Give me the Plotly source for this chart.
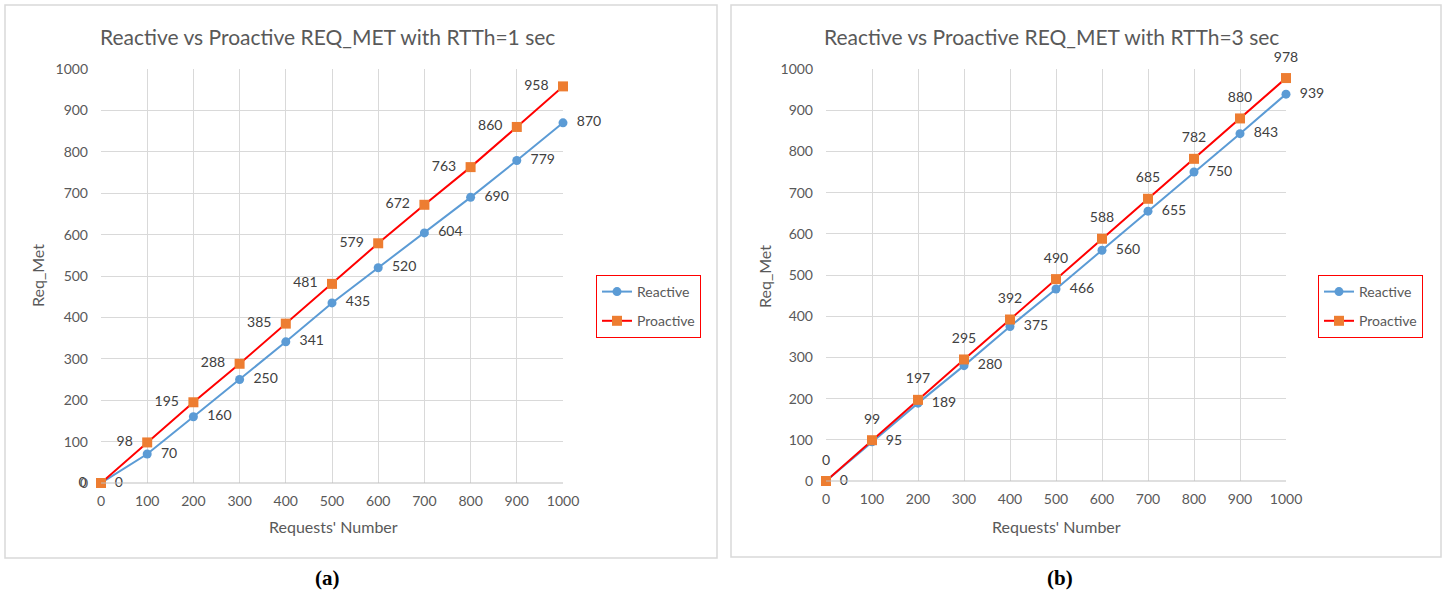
import plotly.graph_objects as go

requests = [0, 100, 200, 300, 400, 500, 600, 700, 800, 900, 1000]
reactive_1s = [0, 70, 160, 250, 341, 435, 520, 604, 690, 779, 870]
proactive_1s = [0, 98, 195, 288, 385, 481, 579, 672, 763, 860, 958]
reactive_3s = [0, 95, 189, 280, 375, 466, 560, 655, 750, 843, 939]
proactive_3s = [0, 99, 197, 295, 392, 490, 588, 685, 782, 880, 978]
titles = ["Reactive vs Proactive REQ_MET with RTTh=1 sec",
          "Reactive vs Proactive REQ_MET with RTTh=3 sec"]
tick_vals = [0, 100, 200, 300, 400, 500, 600, 700, 800, 900, 1000]

W, H = 1447, 597
FONT = "Lato"
TXT = "#595959"
LBL = "#404040"
BLUE = "#5B9BD5"
RED = "#FF0000"
ORANGE = "#ED7D31"
GRID = "#D9D9D9"

def px(x):
    return x / W

def py(y):
    return 1 - y / H

def right_lbl(vals):
    return ["  " + str(v) for v in vals]

def left_lbl(vals):
    return [str(v) + "  " for v in vals]

fig = go.Figure()

lblfont = dict(family=FONT, size=14, color=LBL)
# Left chart
fig.add_trace(go.Scatter(x=requests, y=reactive_1s, name="Reactive", mode="lines+markers+text",
                         text=right_lbl(reactive_1s), textposition="middle right", textfont=lblfont,
                         cliponaxis=False,
                         line=dict(color=BLUE, width=2), marker=dict(symbol="circle", size=9, color=BLUE),
                         xaxis="x", yaxis="y", legend="legend", legendgroup="a1"))
fig.add_trace(go.Scatter(x=requests, y=proactive_1s, name="Proactive", mode="lines+markers+text",
                         text=left_lbl(proactive_1s), textposition="middle left", textfont=lblfont,
                         cliponaxis=False,
                         line=dict(color=RED, width=2), marker=dict(symbol="square", size=10, color=ORANGE),
                         xaxis="x", yaxis="y", legend="legend", legendgroup="a2"))
# Right chart
fig.add_trace(go.Scatter(x=requests, y=reactive_3s, name="Reactive", mode="lines+markers+text",
                         text=right_lbl(reactive_3s), textposition="middle right", textfont=lblfont,
                         cliponaxis=False,
                         line=dict(color=BLUE, width=2), marker=dict(symbol="circle", size=9, color=BLUE),
                         xaxis="x2", yaxis="y2", legend="legend2", legendgroup="b1"))
fig.add_trace(go.Scatter(x=requests, y=proactive_3s, name="Proactive", mode="lines+markers",
                         cliponaxis=False,
                         line=dict(color=RED, width=2), marker=dict(symbol="square", size=10, color=ORANGE),
                         xaxis="x2", yaxis="y2", legend="legend2", legendgroup="b2"))
# labels for right proactive series (transparent larger marker sets the label offset)
fig.add_trace(go.Scatter(x=requests, y=proactive_3s, mode="text+markers", showlegend=False,
                         text=[str(v) for v in proactive_3s], textposition="top center",
                         textfont=lblfont, cliponaxis=False, hoverinfo="skip",
                         marker=dict(size=19, color="rgba(0,0,0,0)"),
                         xaxis="x2", yaxis="y2"))

axis_common = dict(range=[0, 1000], tickvals=tick_vals, showgrid=True, gridcolor=GRID, gridwidth=1,
                   zeroline=False, showline=False, ticks="", automargin=False,
                   tickfont=dict(family=FONT, size=14, color=TXT), fixedrange=True)

fig.update_layout(
    width=W, height=H,
    margin=dict(l=0, r=0, t=0, b=0, autoexpand=False),
    paper_bgcolor="white", plot_bgcolor="white",
    xaxis=dict(domain=[px(101), px(563)], anchor="y", ticklabelstandoff=8, **axis_common),
    yaxis=dict(domain=[py(483), py(69)], anchor="x", ticklabelstandoff=12, **axis_common),
    xaxis2=dict(domain=[px(826), px(1286)], anchor="y2", ticklabelstandoff=8, **axis_common),
    yaxis2=dict(domain=[py(481), py(69)], anchor="x2", ticklabelstandoff=12, **axis_common),
    legend=dict(x=px(596), y=py(275), xanchor="left", yanchor="top", bordercolor=RED, borderwidth=1,
                font=dict(family=FONT, size=14, color=TXT), tracegroupgap=8, bgcolor="white"),
    legend2=dict(x=px(1318), y=py(275), xanchor="left", yanchor="top", bordercolor=RED, borderwidth=1,
                 font=dict(family=FONT, size=14, color=TXT), tracegroupgap=8, bgcolor="white"),
    showlegend=True,
)

# bottom axis lines
fig.add_shape(type="line", xref="x domain", yref="y domain", x0=0, x1=1, y0=0, y1=0,
              line=dict(color="#BFBFBF", width=1))
fig.add_shape(type="line", xref="x2 domain", yref="y2 domain", x0=0, x1=1, y0=0, y1=0,
              line=dict(color="#BFBFBF", width=1))

# outer chart borders
fig.add_shape(type="rect", xref="paper", yref="paper", x0=px(5), x1=px(717), y0=py(558), y1=py(5),
              line=dict(color=GRID, width=1.5))
fig.add_shape(type="rect", xref="paper", yref="paper", x0=px(731), x1=px(1441), y0=py(557), y1=py(5),
              line=dict(color=GRID, width=1.5))

annots = [
    dict(text=titles[0], x=px(327), y=py(36), size=21),
    dict(text=titles[1], x=px(1051), y=py(36), size=21),
    dict(text="Requests' Number", x=px(333), y=py(526), size=16),
    dict(text="Requests' Number", x=px(1056), y=py(526), size=16),
]
for a in annots:
    fig.add_annotation(text=a["text"], x=a["x"], y=a["y"], xref="paper", yref="paper",
                       showarrow=False, xanchor="center", yanchor="middle",
                       font=dict(family=FONT, size=a["size"], color=TXT))
for xx in (37, 764):
    fig.add_annotation(text="Req_Met", x=px(xx), y=py(276), xref="paper", yref="paper",
                       showarrow=False, textangle=-90, xanchor="center", yanchor="middle",
                       font=dict(family=FONT, size=16, color=TXT))
for lab, xx in (("(a)", 327), ("(b)", 1060)):
    fig.add_annotation(text="<b>" + lab + "</b>", x=px(xx), y=py(578), xref="paper", yref="paper",
                       showarrow=False, xanchor="center", yanchor="middle",
                       font=dict(family="Liberation Serif", size=21, color="black"))

fig.write_html("out.html", config={"displayModeBar": False},
               post_script="document.body.style.margin='0';")
